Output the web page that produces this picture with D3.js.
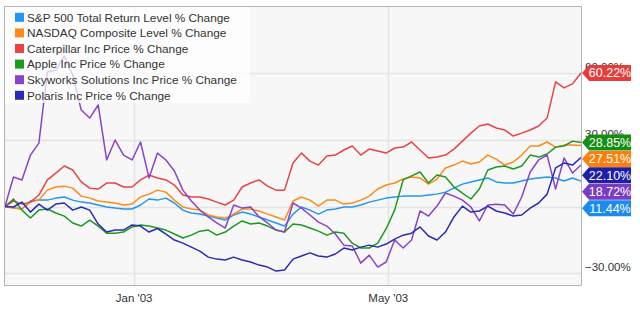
<!DOCTYPE html>
<html>
<head>
<meta charset="utf-8">
<script src="https://cdn.jsdelivr.net/npm/d3@7/dist/d3.min.js"></script>
<style>
  body { margin: 0; background: #fff; }
  svg { display: block; font-family: "Liberation Sans", Arial, sans-serif; }
</style>
</head>
<body>
<svg id="chart" width="640" height="315"></svg>
<script>
// sample dates (every 4 days, Nov 2002 - Jul 2003)
const dates = [
  "2002-11-01","2002-11-05","2002-11-09","2002-11-13","2002-11-17","2002-11-21","2002-11-25","2002-11-29",
  "2002-12-03","2002-12-07","2002-12-11","2002-12-15","2002-12-19","2002-12-23","2002-12-27","2002-12-31",
  "2003-01-04","2003-01-08","2003-01-12","2003-01-16","2003-01-20","2003-01-24","2003-01-28","2003-02-01",
  "2003-02-05","2003-02-09","2003-02-13","2003-02-17","2003-02-21","2003-02-25","2003-03-01","2003-03-05",
  "2003-03-09","2003-03-13","2003-03-17","2003-03-21","2003-03-25","2003-03-29","2003-04-02","2003-04-06",
  "2003-04-10","2003-04-14","2003-04-18","2003-04-22","2003-04-26","2003-04-30","2003-05-04","2003-05-08",
  "2003-05-12","2003-05-16","2003-05-20","2003-05-24","2003-05-28","2003-06-01","2003-06-05","2003-06-09",
  "2003-06-13","2003-06-17","2003-06-21","2003-06-25","2003-06-29","2003-07-03","2003-07-07","2003-07-11",
  "2003-07-15","2003-07-19","2003-07-23","2003-07-27","2003-07-31"
];

const names = [
  "S&P 500 Total Return Level % Change",
  "NASDAQ Composite Level % Change",
  "Caterpillar Inc Price % Change",
  "Apple Inc Price % Change",
  "Skyworks Solutions Inc Price % Change",
  "Polaris Inc Price % Change"
];
const colors = ["#2196f3", "#ff8a1c", "#e84444", "#1f9a1f", "#8844c8", "#2b2bb3"];
const flagColors = ["#1b8ced", "#ff7f0a", "#e63c3c", "#138f13", "#7a3cc0", "#1e1ea6"];

const spx = [0,-0.5,-1.1,2.5,2.9,2.9,3.8,4.3,2.9,2.0,1.6,0.7,-0.2,-0.7,-1.1,-1.1,
  0.7,3.4,2.9,3.8,1.6,-1.6,-2.9,-3.4,-4.3,-5.2,-6.1,-3.8,-2.5,-3.4,-4.7,-6.1,
  -7.4,-8.8,-3.4,-0.2,-1.6,-3.4,-1.6,-1.1,-0.2,-0.2,0.7,2.0,2.9,3.8,4.3,4.7,
  4.7,4.7,5.2,5.6,6.5,8.3,10.1,11.1,12.0,12.9,11.1,10.6,10.6,11.5,12.4,12.9,
  13.3,12.9,11.5,12.9,11.44];
const nasdaq = [0,-0.7,-1.1,2.0,2.9,7.4,8.8,9.2,8.3,4.7,3.8,2.5,2.0,1.6,0.7,1.1,
  4.3,5.6,7.4,6.5,2.9,-0.2,-1.1,-1.6,-3.8,-4.7,-5.2,-3.4,-1.1,-1.1,-2.0,-3.4,
  -4.7,-6.1,2.5,4.3,2.9,0.2,2.9,2.9,1.1,1.6,2.9,4.7,7.9,9.7,10.6,12.4,
  13.3,12.9,10.1,12.4,17.4,18.7,20.5,19.2,20.1,23.2,21.4,18.7,20.1,23.2,27.3,27.3,
  29.1,26.8,27.7,27.7,27.51];
const caterpillar = [0,2.5,1.1,2.0,5.2,12.0,15.1,18.3,16.5,11.1,8.3,7.9,10.6,10.6,8.8,8.8,
  12.0,14.2,12.9,12.0,9.7,5.2,4.3,4.3,3.4,2.0,0.7,2.9,8.8,10.6,12.0,9.2,
  7.4,7.4,19.6,24.1,20.5,18.7,22.8,23.2,25.5,27.3,23.2,25.9,25.0,24.1,26.4,26.8,
  29.1,25.5,21.9,22.3,23.2,25.9,29.5,33.1,36.3,37.2,35.4,34.5,31.8,33.1,34.5,36.3,
  39.9,56.2,53.5,55.3,60.22];
const apple = [0,3.4,-1.6,-5.2,-1.6,-1.1,-2.9,-4.3,-7.4,-8.8,-6.1,-8.8,-12.0,-12.0,-11.5,-9.2,
  -8.3,-8.8,-9.7,-10.6,-12.4,-14.2,-12.9,-11.1,-10.6,-12.9,-11.5,-8.8,-6.5,-7.9,-7.4,-8.8,
  -10.6,-11.5,-7.9,-8.3,-9.7,-11.1,-12.9,-11.5,-12.0,-16.5,-18.7,-18.7,-16.5,-10.0,-1.6,12.0,
  13.8,15.6,10.6,14.2,13.3,8.8,6.1,3.4,7.9,16.5,17.8,18.3,16.9,18.3,23.2,22.3,
  23.7,26.8,27.3,29.5,28.85];
const skyworks = [0,13.3,12.0,23.2,28.6,60.7,61.6,67.9,59.3,43.5,39.9,45.8,21.0,30.0,23.2,21.0,
  29.1,12.9,24.1,21.0,16.0,7.4,2.5,-1.6,-4.7,-7.4,-9.7,0.7,-0.7,-0.2,-4.7,-7.4,
  -10.6,-11.5,1.6,-0.7,-3.8,-7.0,-8.8,-12.4,-17.4,-17.8,-25.5,-21.9,-27.3,-25.0,-15.1,-18.7,
  -15.1,-2.0,-4.3,0.2,6.1,4.7,2.9,-0.2,-6.5,0.7,1.0,0.7,-3.4,4.3,15.6,21.0,
  23.2,7.9,21.9,15.1,18.72];
const polaris = [0,-0.2,2.0,-2.5,1.1,-1.6,1.1,1.6,-1.6,-0.2,-1.6,-7.9,-11.5,-10.6,-10.6,-8.3,
  -8.8,-11.5,-9.9,-12.4,-15.1,-16.5,-18.3,-20.1,-22.8,-23.7,-24.1,-22.8,-24.1,-25.0,-26.4,-27.3,
  -29.1,-28.6,-23.7,-22.3,-20.9,-22.3,-22.8,-21.4,-18.7,-19.6,-18.3,-17.4,-18.3,-16.9,-14.7,-12.9,
  -12.0,-9.2,-13.3,-15.1,-11.5,-4.7,0.2,-2.5,-2.0,0.2,-2.0,-2.9,-4.3,-3.8,-0.7,1.6,
  5.6,17.4,19.6,18.7,22.10];

const seriesValues = [spx, nasdaq, caterpillar, apple, skyworks, polaris];

const yTicks = [-30, 0, 30, 60];
const yLabelTicks = [-30, 30, 60];  // 0% label sits fully under the flags
const xTicks = ["2003-01-01", "2003-05-01"];

// layout
const plot = { left: 4.5, right: 581.5, top: 6.5, bottom: 285.5 };

const parse = d3.timeParse("%Y-%m-%d");
const dateObjs = dates.map(parse);

const x = d3.scaleTime()
  .domain(d3.extent(dateObjs))
  .range([plot.left + 0.5, plot.right - 0.5]);
const y = d3.scaleLinear()
  .domain([-35.6, 90.2])
  .range([plot.bottom, plot.top]);

const svg = d3.select("#chart");

svg.append("defs").append("clipPath").attr("id", "clip")
  .append("rect")
  .attr("x", plot.left).attr("y", plot.top)
  .attr("width", plot.right - plot.left).attr("height", plot.bottom - plot.top);

// plot background
svg.append("rect")
  .attr("x", plot.left).attr("y", plot.top)
  .attr("width", plot.right - plot.left).attr("height", plot.bottom - plot.top)
  .attr("fill", "#f7f7f7");

// grid lines
svg.append("g").selectAll("line").data(yTicks).join("line")
  .attr("x1", plot.left).attr("x2", plot.right)
  .attr("y1", d => Math.round(y(d)) + 0.5).attr("y2", d => Math.round(y(d)) + 0.5)
  .attr("stroke", "#e4e4e4").attr("stroke-width", 1.5);

svg.append("g").selectAll("line").data(xTicks.map(parse)).join("line")
  .attr("x1", d => Math.round(x(d)) + 0.5).attr("x2", d => Math.round(x(d)) + 0.5)
  .attr("y1", plot.top).attr("y2", plot.bottom)
  .attr("stroke", "#e4e4e4").attr("stroke-width", 1.5);

// series lines
const line = d3.line()
  .x((d, i) => x(dateObjs[i]))
  .y(d => y(d));

svg.append("g").attr("clip-path", "url(#clip)")
  .selectAll("path").data(seriesValues).join("path")
  .attr("d", d => line(d))
  .attr("fill", "none")
  .attr("stroke", (d, i) => colors[i])
  .attr("stroke-width", 1.5)
  .attr("stroke-linejoin", "round");

// plot border
svg.append("rect")
  .attr("x", plot.left).attr("y", plot.top)
  .attr("width", plot.right - plot.left).attr("height", plot.bottom - plot.top)
  .attr("fill", "none").attr("stroke", "#b4b4b4").attr("stroke-width", 1);

// legend
const legend = svg.append("g");
legend.append("rect")
  .attr("x", 5).attr("y", 7).attr("width", 245).attr("height", 96)
  .attr("fill", "#fff").attr("fill-opacity", 0.72);
const items = legend.selectAll("g").data(names).join("g")
  .attr("transform", (d, i) => `translate(15, ${17.3 + i * 15.6})`);
items.append("rect")
  .attr("x", 0).attr("y", -4.5).attr("width", 9).attr("height", 9)
  .attr("fill", (d, i) => colors[i]);
items.append("text")
  .attr("x", 12).attr("y", 4.2)
  .attr("font-size", 11.8).attr("fill", "#333")
  .text(d => d);

// x axis labels
const fmtX = d3.timeFormat("%b '%y");
svg.append("g").selectAll("text").data(xTicks.map(parse)).join("text")
  .attr("x", d => x(d)).attr("y", 302)
  .attr("text-anchor", "middle").attr("font-size", 11.5).attr("fill", "#333")
  .text(d => fmtX(d));

// y axis labels (right)
svg.append("g").selectAll("text").data(yLabelTicks).join("text")
  .attr("x", 585).attr("y", d => y(d) - 2.5)
  .attr("font-size", 11.5).attr("fill", "#333")
  .text(d => d3.format(".2f")(d) + "%");

// end-value flags, pushed apart so they do not overlap
const last = seriesValues.map((s, i) => ({ v: s[s.length - 1], i }));
last.sort((a, b) => b.v - a.v);
let prev = -Infinity;
last.forEach(f => {
  f.cy = Math.max(y(f.v), prev + 16.4);
  prev = f.cy;
});

const flags = svg.append("g").selectAll("g").data(last).join("g")
  .attr("transform", d => `translate(0, ${d.cy})`);
flags.append("path")
  .attr("d", "M582,0 L589,-8 L631,-8 L631,8 L589,8 Z")
  .attr("fill", d => flagColors[d.i]);
flags.append("text")
  .attr("x", 610).attr("y", 4.5)
  .attr("text-anchor", "middle").attr("font-size", 12.5).attr("fill", "#fff")
  .text(d => d3.format(".2f")(d.v) + "%");
</script>
</body>
</html>
